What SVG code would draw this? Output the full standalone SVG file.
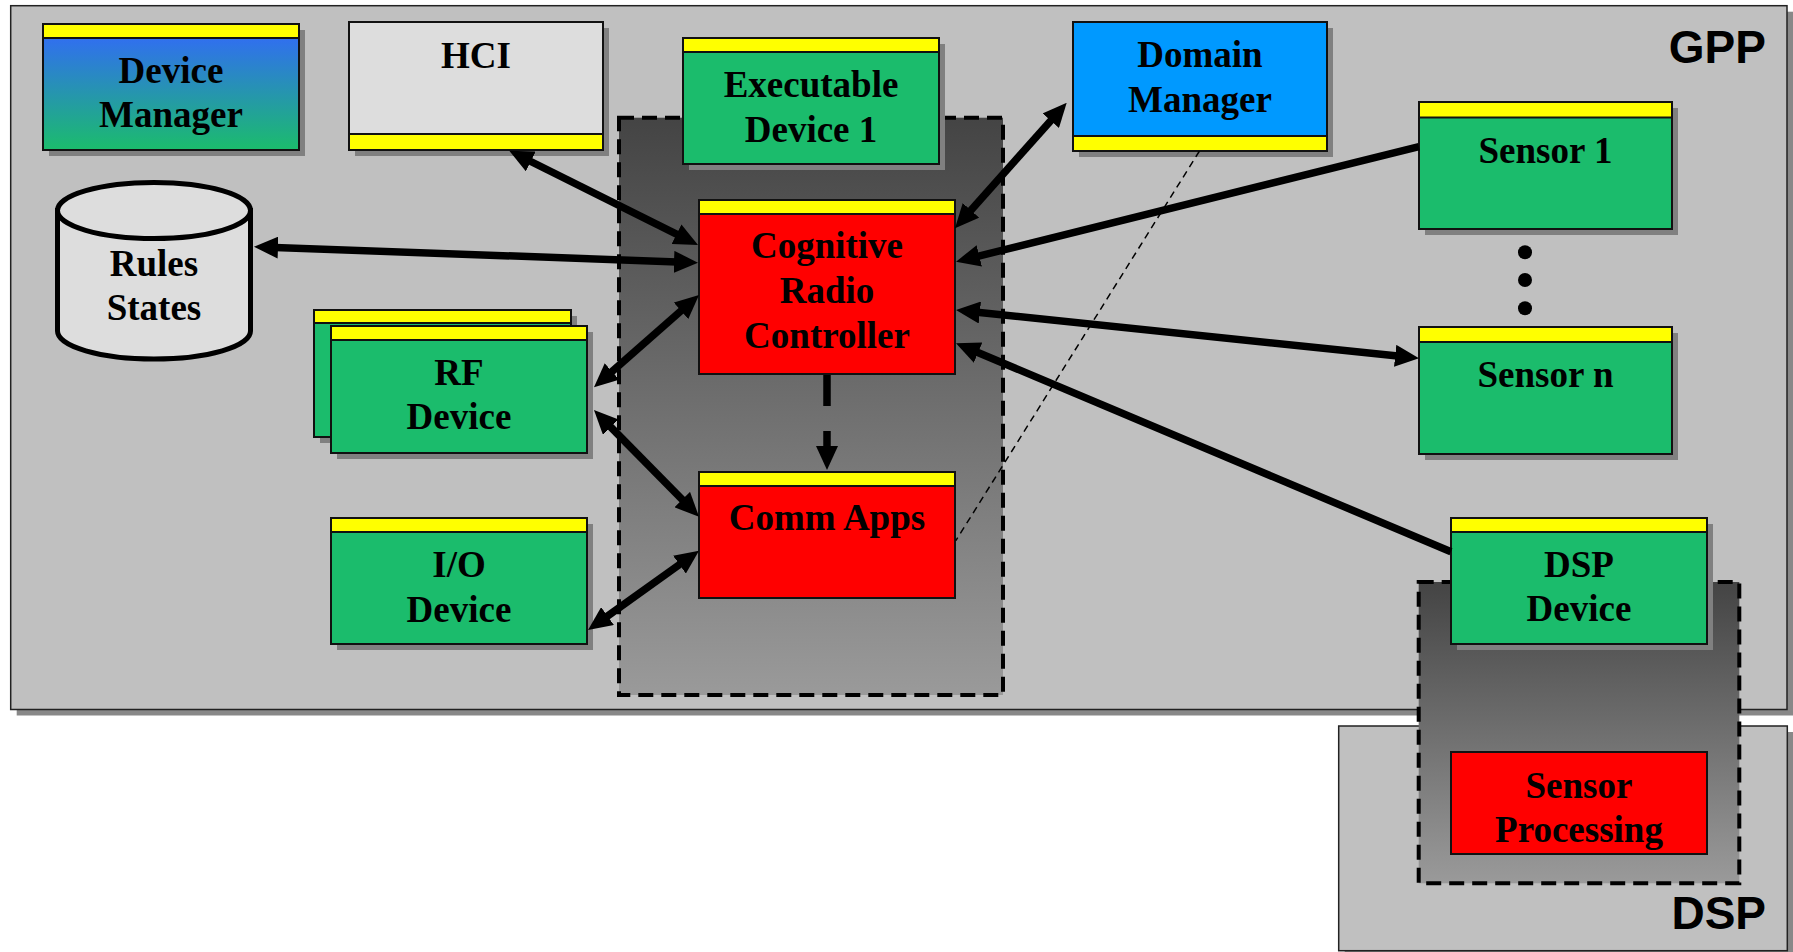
<svg xmlns="http://www.w3.org/2000/svg" width="1793" height="952" viewBox="0 0 1793 952">
<style>
.shadow{fill:#808080}
.box{stroke:#111;stroke-width:2}
.green{fill:#1BBC6C}
.red{fill:#FF0000}
.band{fill:#FFFF00;stroke:#111;stroke-width:2}
.lbl{font-family:"Liberation Serif","Times New Roman",serif;font-weight:bold;font-size:37px;text-anchor:middle;fill:#000}
.big{font-family:"Liberation Sans",Arial,sans-serif;font-weight:bold;font-size:46px;text-anchor:end;fill:#000}
.conn{stroke:#000;stroke-width:7.5;fill:none}
.group{stroke:#000;stroke-width:4;stroke-dasharray:15 8}
</style>
<defs>
<linearGradient id="gDM" x1="0" y1="0" x2="0" y2="1">
<stop offset="0" stop-color="#3366FF"/>
<stop offset="1" stop-color="#1BBC6C"/>
</linearGradient>
<linearGradient id="gDark" x1="0" y1="0" x2="0" y2="1">
<stop offset="0" stop-color="#444444"/>
<stop offset="1" stop-color="#9A9A9A"/>
</linearGradient>
<marker id="ah" viewBox="0 0 24 22" refX="10" refY="11" markerWidth="24" markerHeight="22" markerUnits="userSpaceOnUse" orient="auto-start-reverse">
<path d="M0,0 L24,11 L0,22 z" fill="#000"/>
</marker>
</defs>

<g id="gpp">
<rect x="16.7" y="11.7" width="1776.3" height="703.8" fill="#888"/>
<rect x="10.7" y="5.7" width="1776.3" height="703.8" fill="#C0C0C0" stroke="#222" stroke-width="1.5"/>
<text class="big" x="1766" y="62.7">GPP</text>
</g>

<g id="dsp">
<rect x="1344.7" y="732" width="448.6" height="224.7" fill="#888"/>
<rect x="1338.7" y="726" width="448.6" height="224.7" fill="#C0C0C0" stroke="#222" stroke-width="1.5"/>
<text class="big" x="1766" y="929.3">DSP</text>
</g>

<g id="gpp-waveform">
<rect class="group" x="619" y="117.7" width="384" height="577.3" fill="url(#gDark)"/>
</g>

<g id="dsp-waveform">
<rect class="group" x="1418.7" y="582" width="320.6" height="301.3" fill="url(#gDark)"/>
</g>

<g id="device-manager">
<rect class="shadow" x="49" y="30" width="256" height="126"/>
<rect class="box" x="43" y="24" width="256" height="126" fill="url(#gDM)"/>
<rect class="band" x="43" y="24" width="256" height="14"/>
<text class="lbl" x="171" y="82.7">Device</text>
<text class="lbl" x="171" y="126.7">Manager</text>
</g>

<g id="hci">
<rect class="shadow" x="355" y="28" width="254" height="128"/>
<rect class="box" x="349" y="22" width="254" height="128" fill="#DDDDDD"/>
<rect class="band" x="349" y="134" width="254" height="16"/>
<text class="lbl" x="476" y="67.7">HCI</text>
</g>

<g id="executable-device">
<rect class="shadow" x="689" y="44" width="256" height="126"/>
<rect class="box green" x="683" y="38" width="256" height="126"/>
<rect class="band" x="683" y="38" width="256" height="14"/>
<text class="lbl" x="811" y="97.3">Executable</text>
<text class="lbl" x="811" y="141.7">Device 1</text>
</g>

<g id="domain-manager">
<rect class="shadow" x="1079" y="28" width="254" height="129"/>
<rect class="box" x="1073" y="22" width="254" height="129" fill="#0099FF"/>
<rect class="band" x="1073" y="136" width="254" height="15"/>
<text class="lbl" x="1200" y="66.7">Domain</text>
<text class="lbl" x="1200" y="111.7">Manager</text>
</g>

<g id="rules-states">
<path d="M57.5,210.5 L57.5,331 A96.5,28 0 0 0 250.5,331 L250.5,210.5 Z" fill="#DDDDDD" stroke="#000" stroke-width="5"/>
<ellipse cx="154" cy="210.5" rx="96.5" ry="28" fill="#DDDDDD" stroke="#000" stroke-width="5"/>
<text class="lbl" x="154" y="276">Rules</text>
<text class="lbl" x="154" y="320">States</text>
</g>

<g id="rf-device">
<rect class="shadow" x="320" y="316" width="257" height="127"/>
<rect class="box green" x="314" y="310" width="257" height="127"/>
<rect class="band" x="314" y="310" width="257" height="13"/>
<rect class="shadow" x="337" y="332" width="256" height="127"/>
<rect class="box green" x="331" y="326" width="256" height="127"/>
<rect class="band" x="331" y="326" width="256" height="14"/>
<text class="lbl" x="459" y="385">RF</text>
<text class="lbl" x="459" y="429.3">Device</text>
</g>

<g id="io-device">
<rect class="shadow" x="337" y="524" width="256" height="126"/>
<rect class="box green" x="331" y="518" width="256" height="126"/>
<rect class="band" x="331" y="518" width="256" height="14"/>
<text class="lbl" x="459" y="577.3">I/O</text>
<text class="lbl" x="459" y="621.7">Device</text>
</g>

<g id="cognitive-radio-controller">
<rect class="box red" x="699" y="200" width="256" height="174"/>
<rect class="band" x="699" y="200" width="256" height="14"/>
<text class="lbl" x="827" y="258.3">Cognitive</text>
<text class="lbl" x="827" y="303.3">Radio</text>
<text class="lbl" x="827" y="348.3">Controller</text>
</g>

<g id="comm-apps">
<rect class="box red" x="699" y="472" width="256" height="126"/>
<rect class="band" x="699" y="472" width="256" height="14"/>
<text class="lbl" x="827" y="530">Comm Apps</text>
</g>

<g id="sensor-1">
<rect class="shadow" x="1425" y="108" width="253" height="127"/>
<rect class="box green" x="1419" y="102" width="253" height="127"/>
<rect class="band" x="1419" y="102" width="253" height="15.5"/>
<text class="lbl" x="1545.5" y="163.3">Sensor 1</text>
</g>

<g id="ellipsis">
<circle cx="1525" cy="252.3" r="7"/>
<circle cx="1525" cy="280" r="7"/>
<circle cx="1525" cy="308.3" r="7"/>
</g>

<g id="sensor-n">
<rect class="shadow" x="1425" y="333" width="253" height="127"/>
<rect class="box green" x="1419" y="327" width="253" height="127"/>
<rect class="band" x="1419" y="327" width="253" height="15"/>
<text class="lbl" x="1545.5" y="387.3">Sensor n</text>
</g>

<g id="dsp-device">
<rect class="shadow" x="1457" y="524" width="256" height="126"/>
<rect class="box green" x="1451" y="518" width="256" height="126"/>
<rect class="band" x="1451" y="518" width="256" height="14"/>
<text class="lbl" x="1579" y="576.7">DSP</text>
<text class="lbl" x="1579" y="621">Device</text>
</g>

<g id="sensor-processing">
<rect class="box red" x="1451" y="752" width="256" height="102"/>
<text class="lbl" x="1579" y="798.3">Sensor</text>
<text class="lbl" x="1579" y="842.3">Processing</text>
</g>

<g id="connectors">
<line class="conn" x1="521.8" y1="157" x2="685.5" y2="238.7" marker-start="url(#ah)" marker-end="url(#ah)"/>
<line class="conn" x1="268" y1="247.2" x2="684" y2="262.2" marker-start="url(#ah)" marker-end="url(#ah)"/>
<line class="conn" x1="604.5" y1="378.1" x2="688.5" y2="304.2" marker-start="url(#ah)" marker-end="url(#ah)"/>
<line class="conn" x1="603.8" y1="420" x2="689.2" y2="506.7" marker-start="url(#ah)" marker-end="url(#ah)"/>
<line class="conn" x1="599.4" y1="621.9" x2="687.6" y2="558.8" marker-start="url(#ah)" marker-end="url(#ah)"/>
<line class="conn" x1="827" y1="375" x2="827" y2="456" stroke-dasharray="31 25" marker-end="url(#ah)"/>
<line class="conn" x1="964.3" y1="217.8" x2="1057.4" y2="113.2" marker-start="url(#ah)" marker-end="url(#ah)"/>
<line class="conn" x1="1419" y1="146.7" x2="969.6" y2="258.3" marker-end="url(#ah)"/>
<line class="conn" x1="969.9" y1="311.5" x2="1405.1" y2="356.8" marker-start="url(#ah)" marker-end="url(#ah)"/>
<line class="conn" x1="1451" y1="551.7" x2="968.9" y2="348.7" marker-end="url(#ah)"/>
<line x1="1199.5" y1="151" x2="955.8" y2="540.7" stroke="#000" stroke-width="1.5" stroke-dasharray="7 5"/>
</g>
</svg>
